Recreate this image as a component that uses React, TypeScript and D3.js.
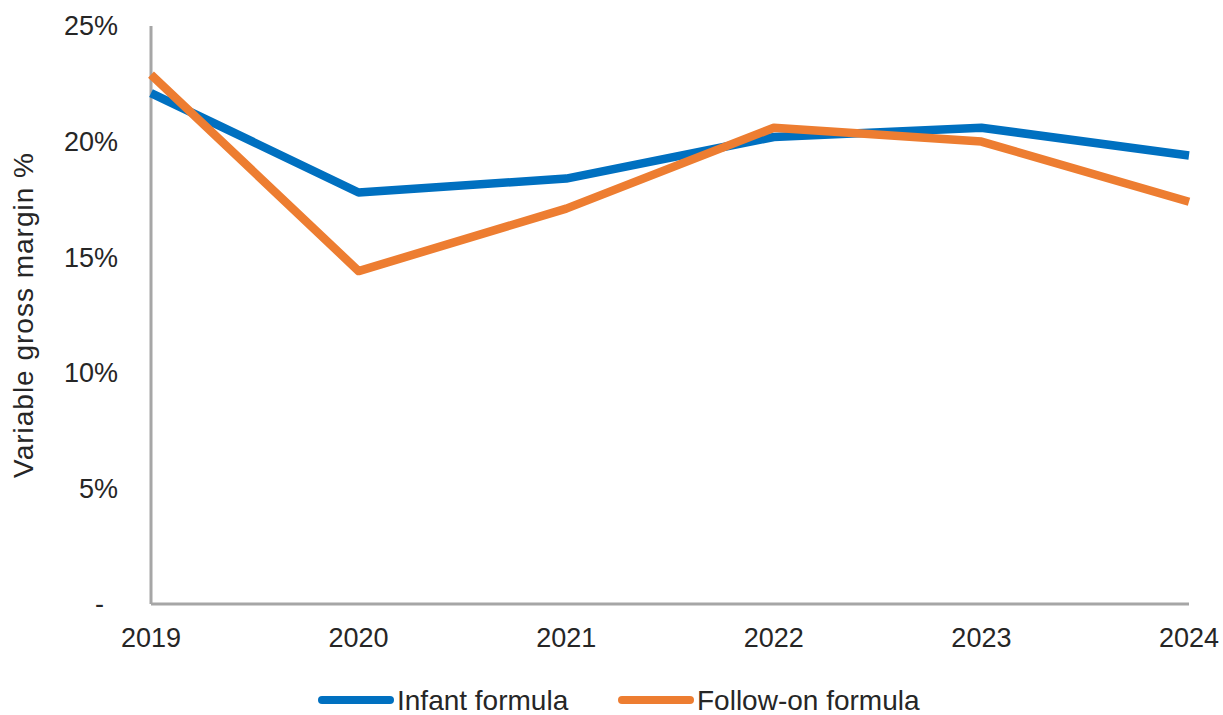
import React from 'react';
import * as d3 from 'd3';

const years = ['2019', '2020', '2021', '2022', '2023', '2024'];
const infantFormula = [22.1, 17.8, 18.4, 20.2, 20.6, 19.4];
const followOnFormula = [22.9, 14.4, 17.1, 20.6, 20.0, 17.4];
const yTicks = [0, 5, 10, 15, 20, 25];

const series = [
  { name: 'Infant formula', values: infantFormula, color: '#0070c0' },
  { name: 'Follow-on formula', values: followOnFormula, color: '#ed7d31' },
];

const width = 1223;
const height = 715;
const margin = { top: 26, right: 34, bottom: 111, left: 151 };

const App: React.FC = () => {
  const innerWidth = width - margin.left - margin.right;
  const innerHeight = height - margin.top - margin.bottom;

  const xScale = d3.scalePoint<string>().domain(years).range([0, innerWidth]);
  const yScale = d3.scaleLinear().domain([0, 25]).range([innerHeight, 0]);

  const line = d3
    .line<number>()
    .x((_, i) => xScale(years[i]) || 0)
    .y(d => yScale(d));

  const font = '"Liberation Sans", Arial, sans-serif';
  const legendX = [322, 622];

  return (
    <svg
      width={width}
      height={height}
      style={{ position: 'absolute', left: 0, top: 0, background: '#fff' }}
      fontFamily={font}
    >
      <g transform={`translate(${margin.left},${margin.top})`}>
        {yTicks.map(t => (
          <text
            key={t}
            x={t === 0 ? -47 : -33}
            y={yScale(t)}
            dy="0.35em"
            textAnchor="end"
            fontSize={27}
            fill="#262626"
          >
            {t === 0 ? '-' : `${t}%`}
          </text>
        ))}
        {years.map(y => (
          <text
            key={y}
            x={xScale(y)}
            y={innerHeight + 43}
            textAnchor="middle"
            fontSize={27}
            fill="#262626"
          >
            {y}
          </text>
        ))}
        <line x1={0} x2={0} y1={0} y2={innerHeight} stroke="#a6a6a6" strokeWidth={3} />
        <line
          x1={0}
          x2={innerWidth}
          y1={innerHeight}
          y2={innerHeight}
          stroke="#a6a6a6"
          strokeWidth={3}
        />
        {series.map(s => (
          <path
            key={s.name}
            d={line(s.values) || ''}
            fill="none"
            stroke={s.color}
            strokeWidth={8.5}
            strokeLinejoin="round"
          />
        ))}
        <text
          transform={`translate(${-118},${innerHeight / 2}) rotate(-90)`}
          textAnchor="middle"
          fontSize={28}
          letterSpacing={1}
          fill="#262626"
        >
          Variable gross margin %
        </text>
      </g>
      <g transform={`translate(0,${height - 5})`}>
        {series.map((s, i) => {
          const x0 = legendX[i];
          return (
            <g key={s.name}>
              <line
                x1={x0}
                x2={x0 + 68}
                y1={-10}
                y2={-10}
                stroke={s.color}
                strokeWidth={8}
                strokeLinecap="round"
              />
              <text x={x0 + 75} y={0} fontSize={28} fill="#262626">
                {s.name}
              </text>
            </g>
          );
        })}
      </g>
    </svg>
  );
};

export default App;
